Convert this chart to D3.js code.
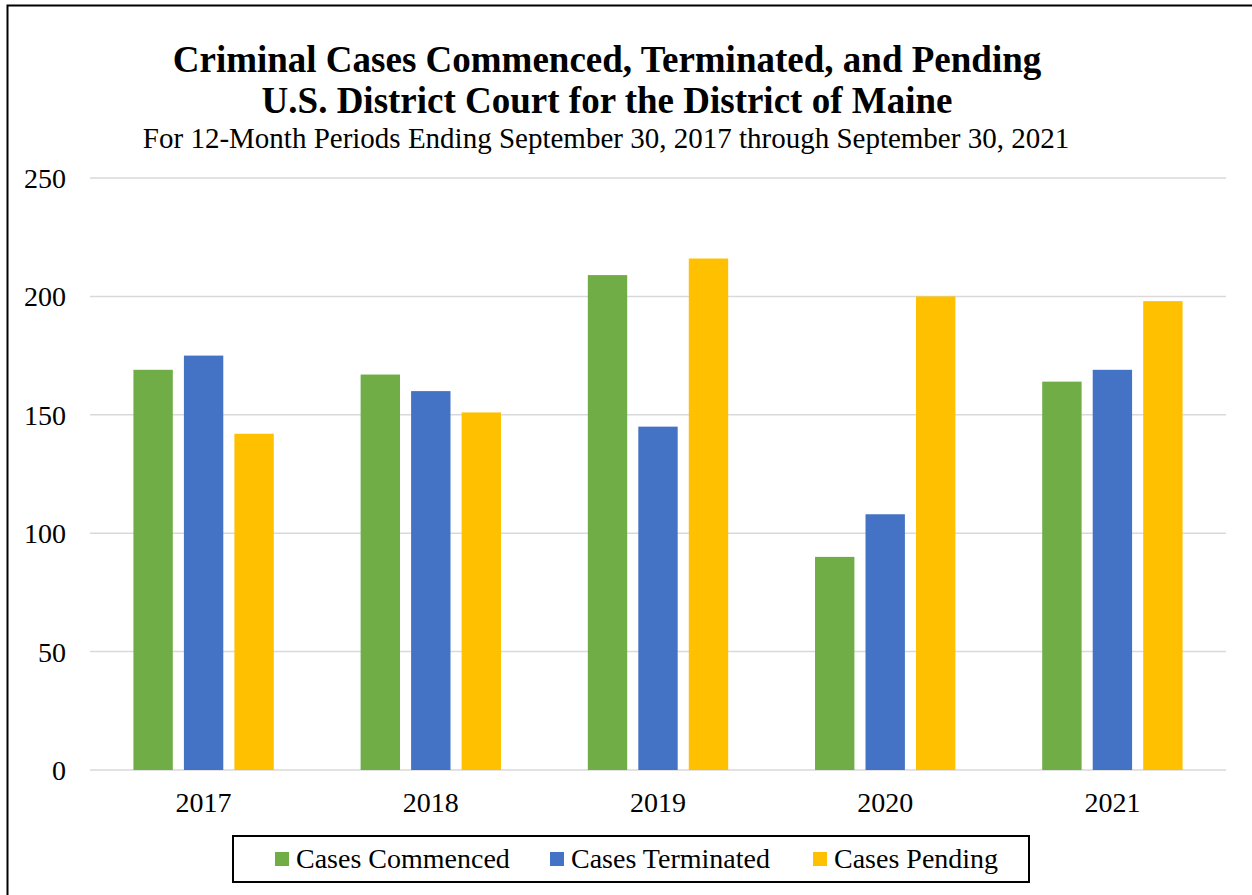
<!DOCTYPE html>
<html>
<head>
<meta charset="utf-8">
<script src="https://cdn.jsdelivr.net/npm/d3@7"></script>
<style>
  body { margin: 0; background: #fff; }
  svg { display: block; font-family: "Liberation Serif", "Times New Roman", serif; }
</style>
</head>
<body>
<svg id="chart" width="1252" height="895"></svg>
<script>
const years = ["2017", "2018", "2019", "2020", "2021"];
const seriesNames = ["Cases Commenced", "Cases Terminated", "Cases Pending"];
const commenced = [169, 167, 209, 90, 164];
const terminated = [175, 160, 145, 108, 169];
const pending = [142, 151, 216, 200, 198];
const yTicks = [0, 50, 100, 150, 200, 250];
const colors = ["#70ad47", "#4472c4", "#ffc000"];

const svg = d3.select("#chart");

// outer frame (cropped on right and bottom)
svg.append("path")
    .attr("d", "M7.5,900 V5.5 H1260")
    .attr("fill", "none")
    .attr("stroke", "#000")
    .attr("stroke-width", 2);

// titles
svg.append("text").attr("x", 607).attr("y", 72)
    .attr("text-anchor", "middle").attr("font-size", 37).attr("font-weight", "bold")
    .text("Criminal Cases Commenced, Terminated, and Pending");
svg.append("text").attr("x", 607).attr("y", 113)
    .attr("text-anchor", "middle").attr("font-size", 37).attr("font-weight", "bold")
    .text("U.S. District Court for the District of Maine");
svg.append("text").attr("x", 606).attr("y", 148)
    .attr("text-anchor", "middle").attr("font-size", 29)
    .text("For 12-Month Periods Ending September 30, 2017 through September 30, 2021");

const plotL = 90, plotR = 1226, plotT = 178, plotB = 770;

const y = d3.scaleLinear().domain([0, 250]).range([plotB, plotT]);
const x0 = d3.scaleBand().domain(years).range([plotL, plotR]);
const x1 = d3.scaleBand().domain(seriesNames)
    .range([0, x0.bandwidth()]).paddingInner(0.22).paddingOuter(0.86);

// gridlines
svg.append("g").selectAll("line")
    .data(yTicks)
    .join("line")
    .attr("x1", plotL).attr("x2", plotR)
    .attr("y1", d => y(d)).attr("y2", d => y(d))
    .attr("stroke", "#d9d9d9").attr("stroke-width", 1.5);

// y labels
svg.append("g").selectAll("text")
    .data(yTicks)
    .join("text")
    .attr("x", 66).attr("y", d => y(d) + 10)
    .attr("text-anchor", "end").attr("font-size", 28)
    .text(d => d);

// bars
const data = [commenced, terminated, pending];
years.forEach((yr, i) => {
    const g = svg.append("g").attr("transform", `translate(${x0(yr)},0)`);
    g.selectAll("rect")
        .data(seriesNames.map((s, j) => ({ s, v: data[j][i], c: colors[j] })))
        .join("rect")
        .attr("x", d => x1(d.s))
        .attr("width", x1.bandwidth())
        .attr("y", d => y(d.v))
        .attr("height", d => y(0) - y(d.v))
        .attr("fill", d => d.c);
});

// x labels
svg.append("g").selectAll("text")
    .data(years)
    .join("text")
    .attr("x", d => x0(d) + x0.bandwidth() / 2)
    .attr("y", 812)
    .attr("text-anchor", "middle").attr("font-size", 28)
    .text(d => d);

// legend
svg.append("rect")
    .attr("x", 233).attr("y", 836).attr("width", 796).attr("height", 46)
    .attr("fill", "none").attr("stroke", "#000").attr("stroke-width", 2);

const legendX = [275, 550, 813];
const leg = svg.append("g").selectAll("g")
    .data(seriesNames)
    .join("g")
    .attr("transform", (d, i) => `translate(${legendX[i]},852)`);
leg.append("rect").attr("width", 14).attr("height", 14)
    .attr("fill", (d, i) => colors[i]);
leg.append("text").attr("x", 21).attr("y", 16)
    .attr("font-size", 28).text(d => d);
</script>
</body>
</html>
